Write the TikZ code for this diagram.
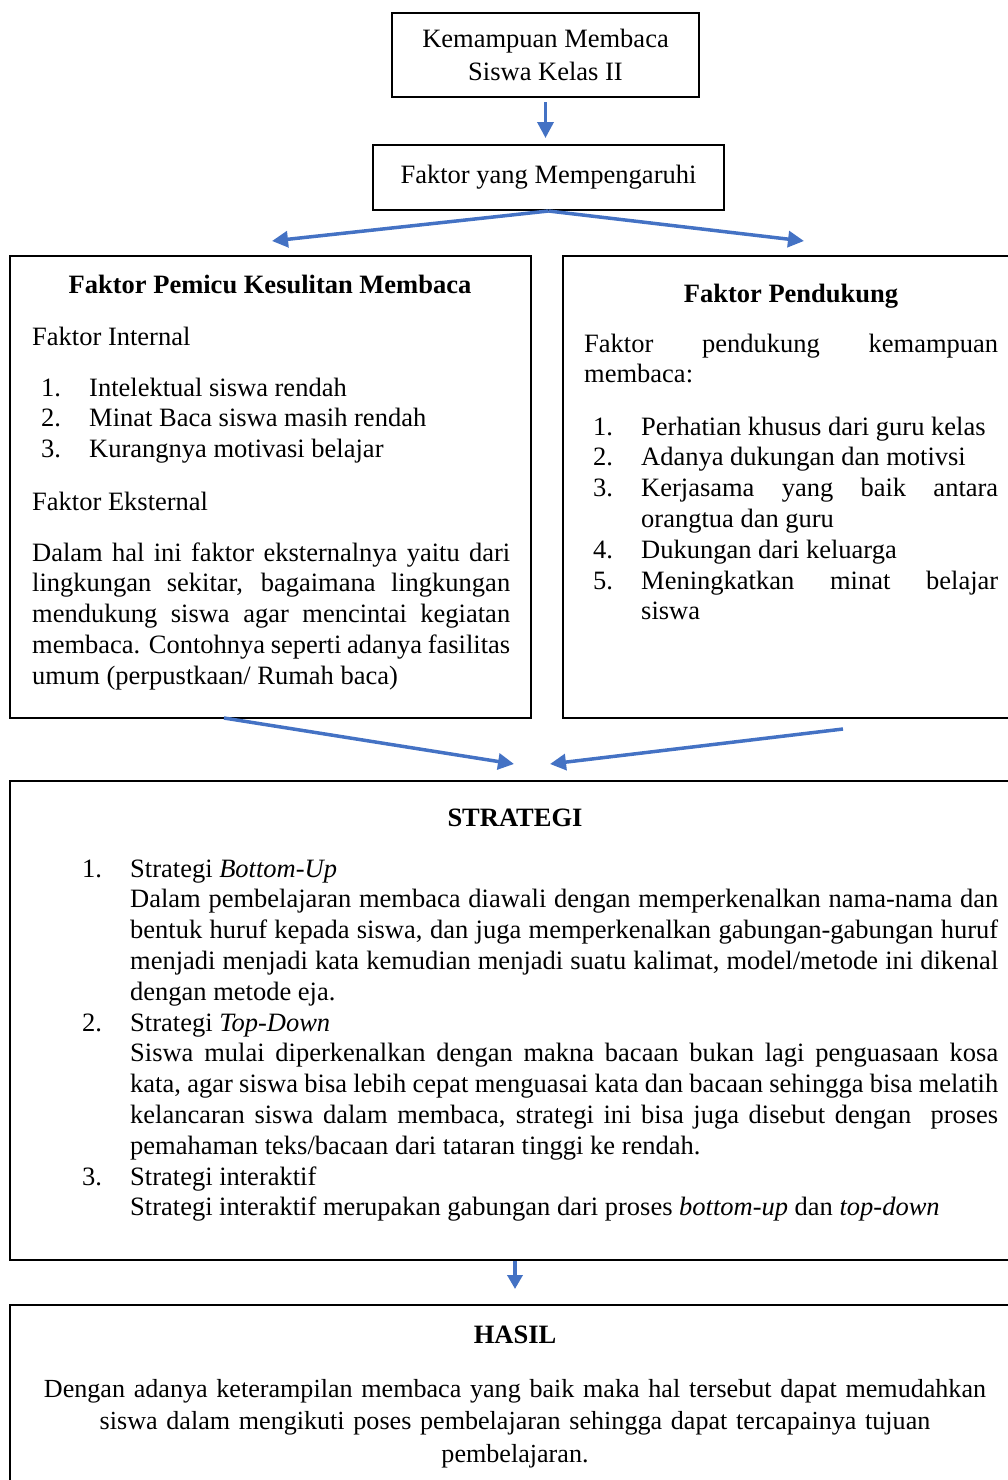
\documentclass[tikz,border=0pt]{standalone}
\usepackage{fontspec}
\setmainfont{Liberation Serif}
\usetikzlibrary{arrows.meta,positioning,calc}
\definecolor{flowblue}{RGB}{68,114,196}
\newcommand{\bodysize}{\fontsize{26.5}{30.8}\selectfont}
\newcommand{\numitem}[2]{\noindent\hangindent=48pt\hangafter=1\makebox[48pt][l]{#1}#2\par}
\hyphenpenalty=10000
\exhyphenpenalty=10000
\tolerance=9999
\tikzset{
  frame/.style={draw=black, line width=2pt, inner sep=0pt},
  txt/.style={anchor=base west, inner sep=0pt, text width=#1, align=justify, font=\bodysize},
  head/.style={anchor=base, inner sep=0pt, font=\bodysize\bfseries},
  flow/.style={-{Triangle[length=16pt,width=16pt]}, line width=3.5pt, flowblue},
  flowshort/.style={-{Triangle[length=14pt,width=15pt]}, line width=4pt, flowblue},
}

\begin{document}
\begin{tikzpicture}[x=1pt, y=-1pt]
  \useasboundingbox (0,0) rectangle (1008,1480);
  \clip (0,0) rectangle (1008,1480);

  % top of the chart
  \node[frame, minimum width=307pt, minimum height=84pt, align=center,
    font=\fontsize{26.5}{33}\selectfont] (kemampuan) at (545.5,55)
    {Kemampuan Membaca\\Siswa Kelas II};
  \node[frame, minimum width=351pt, minimum height=65pt, font=\bodysize]
    (faktor) at (548.5,177.5) {Faktor yang Mempengaruhi};

  % the two factor boxes
  \node[frame, minimum width=521pt, minimum height=462pt] (pemicu) at (270.5,487) {};
  \node[frame, minimum width=467pt, minimum height=462pt] (pendukung) at (796.5,487) {};

  \node[head] (pemicuhead) at (270,293) {Faktor Pemicu Kesulitan Membaca};
  \node[txt=478pt] (internal) at (32,345) {Faktor Internal};
  \node[txt=469pt] (internallist) at (41,396) {%
    \numitem{1.}{Intelektual siswa rendah}%
    \numitem{2.}{Minat Baca siswa masih rendah}%
    \numitem{3.}{Kurangnya motivasi belajar}};
  \node[txt=478pt] (eksternal) at (32,510) {Faktor Eksternal};
  \node[txt=478pt] (eksternalpar) at (32,561) {Dalam hal ini faktor eksternalnya yaitu dari\linebreak
    lingkungan sekitar, bagaimana lingkungan\linebreak
    mendukung siswa agar mencintai kegiatan\linebreak
    membaca. Contohnya seperti adanya fasilitas\linebreak
    umum (perpustkaan/ Rumah baca)};

  \node[head] (pendukunghead) at (791,302) {Faktor Pendukung};
  \node[txt=414pt] (pendukungpar) at (584,352) {Faktor pendukung kemampuan\linebreak membaca:};
  \node[txt=405pt] (pendukunglist) at (593,435) {%
    \numitem{1.}{Perhatian khusus dari guru kelas}%
    \numitem{2.}{Adanya dukungan dan motivsi}%
    \numitem{3.}{Kerjasama yang baik antara\linebreak orangtua dan guru}%
    \numitem{4.}{Dukungan dari keluarga}%
    \numitem{5.}{Meningkatkan minat belajar\linebreak siswa}};

  % strategy and result
  \node[frame, minimum width=1020pt, minimum height=479pt] (strategi) at (520,1020.5) {};
  \node[head] (strategihead) at (515,826) {STRATEGI};
  \node[txt=916pt] (strategilist) at (82,877) {%
    \numitem{1.}{Strategi \textit{Bottom-Up}\newline
      Dalam pembelajaran membaca diawali dengan memperkenalkan nama-nama dan\linebreak
      bentuk huruf kepada siswa, dan juga memperkenalkan gabungan-gabungan huruf\linebreak
      menjadi menjadi kata kemudian menjadi suatu kalimat, model/metode ini dikenal\linebreak
      dengan metode eja.}%
    \numitem{2.}{Strategi \textit{Top-Down}\newline
      Siswa mulai diperkenalkan dengan makna bacaan bukan lagi penguasaan kosa\linebreak
      kata, agar siswa bisa lebih cepat menguasai kata dan bacaan sehingga bisa melatih\linebreak
      kelancaran siswa dalam membaca, strategi ini bisa juga disebut dengan\ \ proses\linebreak
      pemahaman teks/bacaan dari tataran tinggi ke rendah.}%
    \numitem{3.}{Strategi interaktif\newline
      Strategi interaktif merupakan gabungan dari proses \textit{bottom-up} dan \textit{top-down}}};

  \node[frame, minimum width=1020pt, minimum height=195pt] (hasil) at (520,1402.5) {};
  \node[head] (hasilhead) at (515,1343) {HASIL};
  \node[anchor=base, inner sep=0pt, text width=960pt, align=center,
    font=\fontsize{26.1}{32.5}\selectfont] (hasiltext) at (515,1397)
    {Dengan adanya keterampilan membaca yang baik maka hal tersebut dapat memudahkan\\
     siswa dalam mengikuti poses pembelajaran sehingga dapat tercapainya tujuan\\
     pembelajaran.};

  % arrow ends
  \coordinate (pemicutip) at (272,241);
  \coordinate (pendukungtip) at (804,241);
  \coordinate (pemicufoot) at (224,718);
  \coordinate (pendukungfoot) at (843,729);
  \coordinate (meetleft) at (514,764);
  \coordinate (meetright) at (550,764);
  \coordinate (strategifoot) at (515,1261);
  \coordinate (hasiltop) at (515,1289);

  \draw[flow, shorten <=4pt, shorten >=6pt] (kemampuan.south) -- (kemampuan.south |- faktor.north);
  \draw[flow] (faktor.south) -- (pemicutip);
  \draw[flow] (faktor.south) -- (pendukungtip);
  \draw[flow] (pemicufoot) -- (meetleft);
  \draw[flow] (pendukungfoot) -- (meetright);
  \draw[flowshort] (strategifoot) -- (hasiltop);
\end{tikzpicture}
\end{document}
